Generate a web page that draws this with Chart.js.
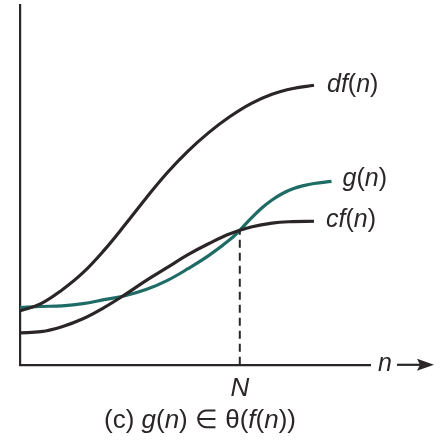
<!DOCTYPE html>
<html>
<head>
<meta charset="utf-8">
<script src="https://cdn.jsdelivr.net/npm/chart.js@4/dist/chart.umd.min.js"></script>
<style>
  html, body { margin: 0; padding: 0; background: #ffffff; }
  #wrap { width: 442px; height: 440px; position: relative; }
</style>
</head>
<body>
<div id="wrap"><canvas id="c" width="442" height="440"></canvas></div>
<script>
// Sample points along n for the growth curves
const nValues  = [0, 6, 12, 18, 24, 30, 36, 42, 48, 54, 60, 66, 72, 78, 84];
const dfValues = [15.0, 17.0, 20.8, 25.6, 31.8, 38.9, 46.3, 53.3, 59.4, 64.6, 69.0, 72.6, 75.2, 76.8, 77.7];
const cfValues = [8.9, 9.2, 10.6, 12.8, 15.9, 19.5, 23.4, 27.0, 30.6, 33.7, 36.4, 38.3, 39.4, 39.8, 39.9];
const gN       = [0, 6, 12, 18, 24, 30, 36, 42, 48, 54, 60, 63, 66, 69, 72, 75, 78, 81, 84, 89];
const gValues  = [15.9, 16.2, 16.4, 17.0, 18.1, 19.2, 20.9, 23.4, 26.7, 30.4, 34.8, 37.6, 40.7, 43.5, 45.8, 47.6, 48.9, 49.8, 50.4, 51.0];

// Threshold N where g(n) meets cf(n)
const thresholdN = 62.8;
const thresholdValue = 37.3;
const xTickLabels = ['N'];

const INK = '#2a2627';
const TEAL = '#1f6b66';
const FONT = '"Liberation Sans", Arial, Helvetica, sans-serif';

const pts = (xs, ys) => xs.map((x, i) => ({ x: x, y: ys[i] }));

// Draw a run of text pieces, some italic, starting at x (left) or centred
function drawRich(ctx, parts, x, y, size, align) {
  ctx.save();
  ctx.textBaseline = 'middle';
  ctx.textAlign = 'left';
  ctx.fillStyle = INK;
  const widths = parts.map(p => {
    ctx.font = (p[1] ? 'italic ' : '') + size + 'px ' + FONT;
    return ctx.measureText(p[0]).width;
  });
  const total = widths.reduce((a, b) => a + b, 0);
  let cx = align === 'center' ? x - total / 2 : x;
  parts.forEach((p, i) => {
    ctx.font = (p[1] ? 'italic ' : '') + size + 'px ' + FONT;
    ctx.fillText(p[0], cx, y);
    cx += widths[i];
  });
  ctx.restore();
}

const annotations = {
  id: 'annotations',
  afterDraw(chart) {
    const ctx = chart.ctx;
    const xs = chart.scales.x, ys = chart.scales.y;
    const area = chart.chartArea;
    const endLabel = (xv, yv, parts, dx, dy) => {
      drawRich(ctx, parts, xs.getPixelForValue(xv) + dx, ys.getPixelForValue(yv) + dy, 25, 'left');
    };
    endLabel(nValues[nValues.length - 1], dfValues[dfValues.length - 1],
      [['df', true], ['(', false], ['n', true], [')', false]], 13, 0);
    endLabel(gN[gN.length - 1], gValues[gValues.length - 1],
      [['g', true], ['(', false], ['n', true], [')', false]], 11, -2);
    endLabel(nValues[nValues.length - 1], cfValues[cfValues.length - 1],
      [['cf', true], ['(', false], ['n', true], [')', false]], 12, -1);

    // n axis name with arrow
    const ay = area.bottom;
    drawRich(ctx, [['n', true]], area.right + 8, ay - 1, 25, 'left');
    ctx.save();
    ctx.strokeStyle = INK;
    ctx.fillStyle = INK;
    ctx.lineWidth = 2.2;
    ctx.beginPath();
    ctx.moveTo(area.right + 27, ay);
    ctx.lineTo(area.right + 52, ay);
    ctx.stroke();
    ctx.beginPath();
    ctx.moveTo(area.right + 64, ay);
    ctx.lineTo(area.right + 47, ay - 6);
    ctx.lineTo(area.right + 50, ay);
    ctx.lineTo(area.right + 47, ay + 6);
    ctx.closePath();
    ctx.fill();
    ctx.restore();

    // caption
    drawRich(ctx, [
      ['(c) ', false], ['g', true], ['(', false], ['n', true], [') \u2208 \u03B8(', false],
      ['f', true], ['(', false], ['n', true], ['))', false]
    ], 200, 421, 26, 'center');
  }
};

const curve = { showLine: true, borderWidth: 3.2, pointRadius: 0, tension: 0.4 };

new Chart(document.getElementById('c'), {
  type: 'scatter',
  data: {
    datasets: [
      Object.assign({ label: 'df(n)', data: pts(nValues, dfValues), borderColor: INK }, curve),
      Object.assign({ label: 'cf(n)', data: pts(nValues, cfValues), borderColor: INK }, curve),
      { label: 'N', data: [{ x: thresholdN, y: 0 }, { x: thresholdN, y: thresholdValue }], showLine: true, borderColor: INK, borderWidth: 2, borderDash: [8, 5], pointRadius: 0 },
      Object.assign({ label: 'g(n)', data: pts(gN, gValues), borderColor: TEAL }, curve)
    ]
  },
  options: {
    responsive: false,
    animation: false,
    events: [],
    layout: { padding: { left: 12, right: 72, top: 5, bottom: 36 } },
    plugins: { legend: { display: false }, tooltip: { enabled: false } },
    scales: {
      x: {
        type: 'linear', min: 0, max: 100,
        grid: { display: false },
        border: { display: true, color: INK, width: 2.2 },
        afterBuildTicks(scale) { scale.ticks = [{ value: thresholdN }]; },
        ticks: {
          padding: 0,
          color: INK,
          font: { family: FONT, size: 26, style: 'italic' },
          callback: () => xTickLabels[0],
          maxRotation: 0, autoSkip: false
        }
      },
      y: {
        type: 'linear', min: 0, max: 100,
        grid: { display: false },
        border: { display: true, color: INK, width: 2.2 },
        ticks: { display: false }
      }
    }
  },
  plugins: [annotations]
});
</script>
</body>
</html>
